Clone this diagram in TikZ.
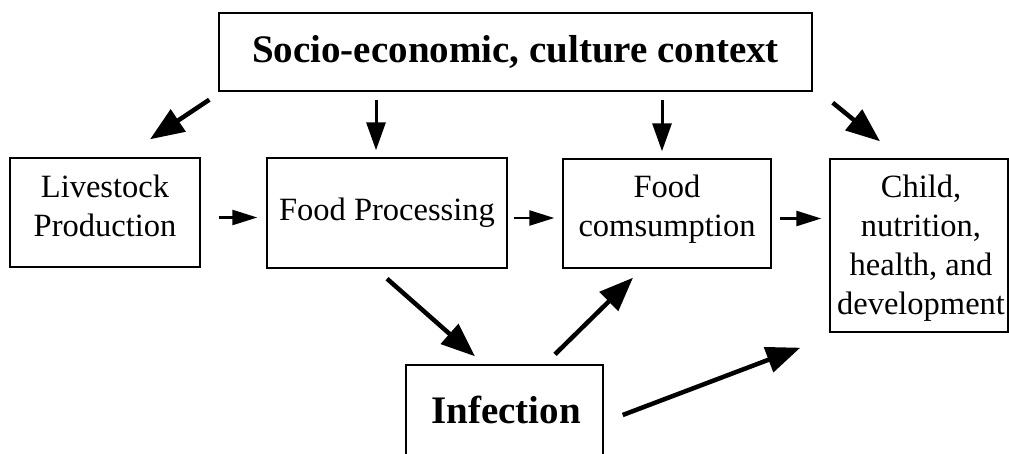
\documentclass[tikz,border=0pt]{standalone}
\usepackage{fontspec}
\setmainfont{Liberation Serif}
\usetikzlibrary{arrows.meta,calc}
\begin{document}
\begin{tikzpicture}[x=1pt,y=-1pt,
  box/.style={draw,line width=1.4pt,inner sep=0pt},
  txt/.style={font=\fontsize{32.5}{39}\selectfont,align=center,inner sep=0pt},
  boldtxt/.style={font=\fontsize{39}{46}\selectfont\bfseries,inner sep=0pt},
  bigarr/.style={line width=4.5pt,-{Triangle[length=34pt,width=26pt]}},
  midarr/.style={line width=3pt,-{Triangle[length=28pt,width=19pt]}},
  smallarr/.style={line width=2.5pt,-{Triangle[length=25pt,width=15pt]}}]
\fill[white] (0,0) rectangle (1009,453);
\useasboundingbox (0,0) rectangle (1009,453);

% boxes
\node[box,minimum width=593pt,minimum height=78pt] (top) at (515.5,52) {};
\node[box,minimum width=190pt,minimum height=109pt] (live) at (105,212.5) {};
\node[box,minimum width=240pt,minimum height=110pt] (fp) at (387,213) {};
\node[box,minimum width=208pt,minimum height=109pt] (fc) at (667,213.5) {};
\node[box,minimum width=178pt,minimum height=173pt] (child) at (919,245.5) {};
\node[box,minimum width=197pt,minimum height=90pt] (inf) at (504.5,410) {};

% texts
\node[boldtxt] (topT) at ($(top.center)+(0,-0.5)$) {Socio-economic, culture context};
\node[txt] (liveT) at ($(live.center)+(0,-6.5)$) {Livestock\\Production};
\node[txt] (fpT) at (fp.center) {Food Processing};
\node[txt] (fcT) at ($(fc.center)+(0,-4)$) {Food\\comsumption};
\node[txt] (childT) at ($(child.center)+(2,2.5)$) {Child,\\nutrition,\\health, and\\development};
\node[boldtxt] (infT) at ($(inf.center)+(1.5,0)$) {Infection};

% arrows from context
\draw[bigarr] ($(top.south west)+(-9,8)$) -- ($(live.north)+(45,-18)$);
\draw[midarr] ($(fp.north|-top.south)+(-11,8)$) -- ($(fp.north)+(-11,-7)$);
\draw[midarr] ($(fc.north|-top.south)+(-5,8)$) -- ($(fc.north)+(-5,-7)$);
\draw[bigarr] ($(top.south east)+(20,11)$) -- ($(child.north)+(-39,-17)$);

% horizontal chain
\draw[smallarr] ($(live.east)+(18,5)$) -- ($(fp.west|-live.east)+(-9,5)$);
\draw[smallarr] ($(fp.east)+(6,5)$) -- ($(fc.west|-fp.east)+(-8,5)$);
\draw[smallarr] ($(fc.east)+(8,5)$) -- ($(child.west|-fc.east)+(-8,5)$);

% infection arrows
\draw[bigarr] ($(fp.south)+(0,10)$) -- ($(inf.north)+(-29.5,-8)$);
\draw[bigarr] ($(inf.north)+(50.5,-10)$) -- ($(fc.south)+(-34,9)$);
\draw[bigarr] ($(inf.east)+(19,5)$) -- ($(child.south west)+(-29,15)$);
\end{tikzpicture}
\end{document}
